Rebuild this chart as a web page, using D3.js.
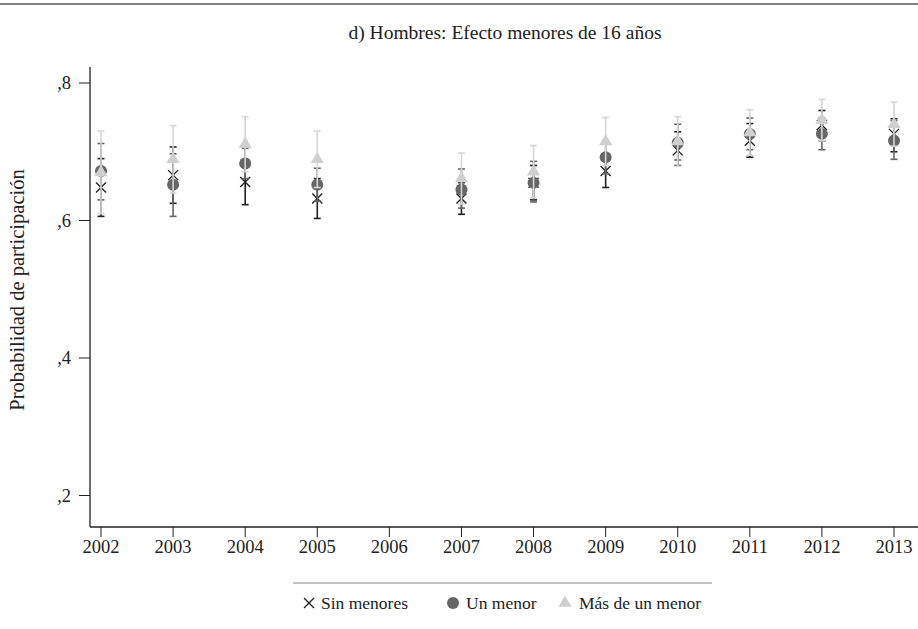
<!DOCTYPE html>
<html>
<head>
<meta charset="utf-8">
<script src="https://cdn.jsdelivr.net/npm/d3@7"></script>
<style>
  body { margin: 0; background: #fff; }
  svg { display: block; }
  text { font-family: "Liberation Serif", "DejaVu Serif", serif; fill: #222; }
</style>
</head>
<body>
<svg id="chart" width="918" height="629"></svg>
<script>
// values (2006 has no estimate)
const years = ['2002', '2003', '2004', '2005', '2006', '2007', '2008', '2009', '2010', '2011', '2012', '2013']
const yTicks = [0.2, 0.4, 0.6, 0.8]

const sinEst = [0.648, 0.666, 0.656, 0.632, null, 0.632, 0.655, 0.672, 0.702, 0.716, 0.739, 0.726]
const sinLo = [0.606, 0.625, 0.623, 0.603, null, 0.609, 0.630, 0.648, 0.680, 0.692, 0.716, 0.700]
const sinHi = [0.690, 0.707, 0.689, 0.661, null, 0.655, 0.680, 0.696, 0.729, 0.741, 0.760, 0.748]

const unEst = [0.672, 0.652, 0.683, 0.652, null, 0.645, 0.655, 0.692, 0.713, 0.726, 0.726, 0.716]
const unLo = [0.630, 0.606, 0.661, 0.628, null, 0.618, 0.627, 0.668, 0.688, 0.703, 0.703, 0.689]
const unHi = [0.712, 0.697, 0.705, 0.676, null, 0.675, 0.686, 0.716, 0.740, 0.749, 0.749, 0.745]

const masEst = [0.670, 0.689, 0.711, 0.689, null, 0.661, 0.671, 0.715, 0.715, 0.728, 0.746, 0.740]
const masLo = [0.610, 0.640, 0.671, 0.648, null, 0.624, 0.633, 0.680, 0.679, 0.695, 0.716, 0.708]
const masHi = [0.730, 0.738, 0.751, 0.730, null, 0.698, 0.709, 0.750, 0.751, 0.761, 0.776, 0.772]

const seriesNames = ['Sin menores', 'Un menor', 'Más de un menor']

const svg = d3.select('#chart')

let axisLeft = 90
let axisBottom = 527
let axisTop = 67

let x = d3.scalePoint().domain(years).range([101, 894])
let y = d3.scaleLinear().domain([0.2, 0.8]).range([495.5, 83])

// rule at top of the figure
svg.append('line')
    .attr('x1', 0).attr('x2', 918).attr('y1', 4).attr('y2', 4)
    .style('stroke', '#555').style('stroke-width', 1.5)

svg.append('text')
    .attr('x', 505).attr('y', 39)
    .attr('text-anchor', 'middle')
    .attr('font-size', '19.5px')
    .text('d) Hombres: Efecto menores de 16 años')

// y axis
svg.append('line')
    .attr('x1', axisLeft).attr('x2', axisLeft).attr('y1', axisTop).attr('y2', axisBottom)
    .style('stroke', '#222').style('stroke-width', 1.3)
let yAxis = svg.append('g').selectAll('g').data(yTicks).enter().append('g')
yAxis.append('line')
    .attr('x1', 79).attr('x2', axisLeft)
    .attr('y1', d => y(d)).attr('y2', d => y(d))
    .style('stroke', '#222').style('stroke-width', 1)
yAxis.append('text')
    .attr('x', 71).attr('y', d => y(d) + 6)
    .attr('text-anchor', 'end')
    .attr('font-size', '18.5px')
    .text(d => ',' + String(Math.round(d * 10)))

svg.append('text')
    .attr('transform', 'translate(24,290) rotate(-90)')
    .attr('text-anchor', 'middle')
    .attr('font-size', '20.5px')
    .text('Probabilidad de participación')

// x axis
svg.append('line')
    .attr('x1', axisLeft).attr('x2', 918).attr('y1', axisBottom).attr('y2', axisBottom)
    .style('stroke', '#222').style('stroke-width', 1.3)
let xAxis = svg.append('g').selectAll('g').data(years).enter().append('g')
xAxis.append('line')
    .attr('x1', d => x(d)).attr('x2', d => x(d))
    .attr('y1', axisBottom).attr('y2', axisBottom + 10)
    .style('stroke', '#222').style('stroke-width', 1)
xAxis.append('text')
    .attr('x', d => x(d)).attr('y', axisBottom + 26)
    .attr('text-anchor', 'middle')
    .attr('font-size', '18.5px')
    .text(d => d)

// one error-bar + marker layer per series
function drawSeries(est, lo, hi, lineColor, markColor, shape) {
    let rows = years.map((yr, i) => ({ yr: yr, est: est[i], lo: lo[i], hi: hi[i] }))
        .filter(d => d.est !== null)
    let g = svg.append('g')
    g.selectAll('.bar').data(rows).enter().append('line')
        .attr('x1', d => x(d.yr)).attr('x2', d => x(d.yr))
        .attr('y1', d => y(d.lo)).attr('y2', d => y(d.hi))
        .style('stroke', lineColor).style('stroke-width', 1.6)
    g.selectAll('.capHi').data(rows).enter().append('line')
        .attr('x1', d => x(d.yr) - 3.5).attr('x2', d => x(d.yr) + 3.5)
        .attr('y1', d => y(d.hi)).attr('y2', d => y(d.hi))
        .style('stroke', lineColor).style('stroke-width', 1.6)
    g.selectAll('.capLo').data(rows).enter().append('line')
        .attr('x1', d => x(d.yr) - 3.5).attr('x2', d => x(d.yr) + 3.5)
        .attr('y1', d => y(d.lo)).attr('y2', d => y(d.lo))
        .style('stroke', lineColor).style('stroke-width', 1.6)
    drawMarkers(g, rows.map(d => [x(d.yr), y(d.est)]), markColor, shape)
}

function drawMarkers(g, pts, color, shape) {
    if (shape === 'x') {
        g.selectAll('.mk').data(pts).enter().append('path')
            .attr('d', d => `M${d[0] - 5},${d[1] - 5}L${d[0] + 5},${d[1] + 5}M${d[0] - 5},${d[1] + 5}L${d[0] + 5},${d[1] - 5}`)
            .style('stroke', color).style('stroke-width', 1.4).style('fill', 'none')
    } else if (shape === 'circle') {
        g.selectAll('.mk').data(pts).enter().append('circle')
            .attr('cx', d => d[0]).attr('cy', d => d[1]).attr('r', 6)
            .style('fill', color)
    } else {
        g.selectAll('.mk').data(pts).enter().append('path')
            .attr('d', d => d3.symbol().type(d3.symbolTriangle).size(75)())
            .attr('transform', d => `translate(${d[0]},${d[1]})`)
            .style('fill', color)
    }
}

drawSeries(sinEst, sinLo, sinHi, '#222', '#222', 'x')
drawSeries(unEst, unLo, unHi, '#666', '#666', 'circle')
drawSeries(masEst, masLo, masHi, '#d6d6d6', '#cfcfcf', 'triangle')

// legend
svg.append('line')
    .attr('x1', 293).attr('x2', 712).attr('y1', 583).attr('y2', 583)
    .style('stroke', '#888').style('stroke-width', 1)
let legY = 603
let leg = svg.append('g')
drawMarkers(leg.append('g'), [[309, legY]], '#222', 'x')
drawMarkers(leg.append('g'), [[453, legY]], '#666', 'circle')
drawMarkers(leg.append('g'), [[565, legY]], '#cfcfcf', 'triangle')
let legX = [321, 466, 579]
leg.selectAll('.lt').data(seriesNames).enter().append('text')
    .attr('x', (d, i) => legX[i]).attr('y', legY + 6)
    .attr('font-size', '17.5px')
    .text(d => d)
</script>
</body>
</html>
